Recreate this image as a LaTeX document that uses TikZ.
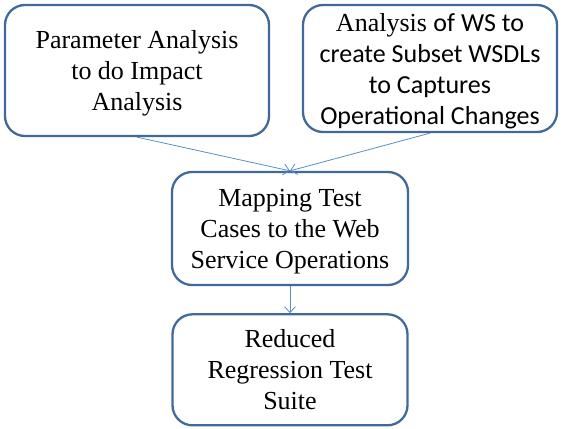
\documentclass[tikz,border=0pt]{standalone}
\usepackage{fontspec}
\setmainfont{Liberation Serif}
\newfontfamily\calib{Carlito}
\usetikzlibrary{positioning,arrows.meta}
\definecolor{boxblue}{RGB}{65,106,155}
\definecolor{arrowblue}{RGB}{90,140,205}
\tikzset{
  stepbox/.style={draw=boxblue, line width=2.3pt, rounded corners=20pt,
    align=center, inner sep=0pt, text depth=0pt,
    font=\fontsize{26}{31}\selectfont},
  flow/.style={draw=arrowblue, line width=0.8pt,
    -{Straight Barb[length=6pt,width=11pt]}},
}

\begin{document}
\begin{tikzpicture}[x=1pt,y=-1pt]
\useasboundingbox (0,0) rectangle (567,428);
\node (PA) [stepbox, minimum width=264pt, minimum height=131pt] at (137,70.5)
  {Parameter Analysis\\to do Impact\\Analysis};
\node (WS) [stepbox, minimum width=254pt, minimum height=127pt] at (430,68.5)
  {Analysis {\calib of WS to}\\{\calib create Subset WSDLs}\\{\calib to Captures}\\{\calib Operational Changes}};
\node (MT) [stepbox, minimum width=236pt, minimum height=113pt] at (290,228.5)
  {Mapping Test\\Cases to the Web\\Service Operations};
\node (RS) [stepbox, minimum width=235pt, minimum height=111pt, below=27pt of MT]
  {Reduced\\Regression Test\\Suite};

\draw[flow] (PA.south) -- (MT.north);
\draw[flow] (WS.south) -- (MT.north);
\draw[flow] (MT) -- (RS);
\end{tikzpicture}
\end{document}
